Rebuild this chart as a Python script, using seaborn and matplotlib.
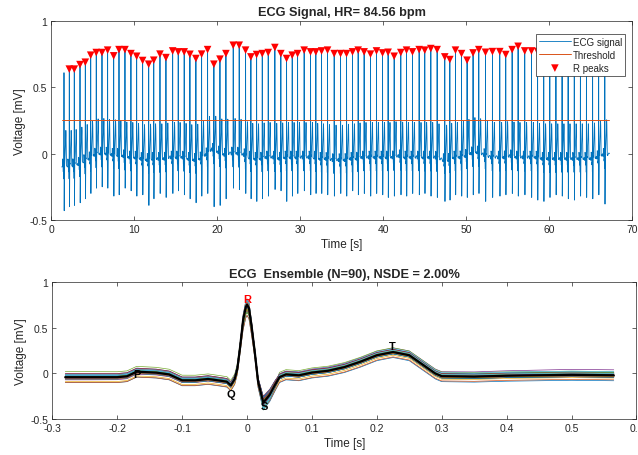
import numpy as np
import pandas as pd
import matplotlib
matplotlib.use("Agg")
import matplotlib.pyplot as plt
from matplotlib.ticker import FormatStrFormatter
import seaborn as sns

# mean beat: time from R peak [s] and voltage [mV]
tmpl_t = np.array([-0.28, -0.24, -0.20, -0.185, -0.17, -0.155, -0.14, -0.12, -0.10, -0.08,
                   -0.06, -0.04, -0.031, -0.025, -0.019, -0.015, -0.011, -0.006, -0.002, 0.0,
                   0.003, 0.007, 0.012, 0.017, 0.025, 0.035, 0.043, 0.05, 0.06, 0.08,
                   0.10, 0.125, 0.15, 0.175, 0.20, 0.225, 0.25, 0.27, 0.29, 0.30,
                   0.35, 0.40, 0.45, 0.50, 0.565])
tmpl_v = np.array([-0.04, -0.04, -0.04, -0.03, 0.02, 0.015, 0.01, -0.01, -0.075, -0.075,
                   -0.06, -0.08, -0.09, -0.13, -0.06, 0.05, 0.27, 0.60, 0.74, 0.77,
                   0.73, 0.53, 0.23, -0.09, -0.33, -0.24, -0.13, -0.04, -0.01, -0.02,
                   0.01, 0.03, 0.07, 0.13, 0.20, 0.235, 0.20, 0.10, 0.0, -0.03,
                   -0.035, -0.025, -0.02, -0.015, -0.02])

# R peak times [s] (first spike was not detected)
beat_times = np.array([
    1.53, 2.17, 2.77, 3.46, 4.10, 4.75, 5.42, 6.11, 6.79, 7.52, 8.16, 8.88, 9.60, 10.29,
    11.01, 11.74, 12.35, 13.10, 13.82, 14.63, 15.30, 16.02, 16.71, 17.43, 18.12, 18.84,
    19.60, 20.33, 21.05, 21.93, 22.65, 23.42, 24.06, 24.75, 25.43, 26.15, 26.95, 27.67,
    28.36, 29.04, 29.69, 30.48, 31.25, 31.89, 32.58, 33.30, 34.10, 34.87, 35.59, 36.31,
    36.99, 37.71, 38.48, 39.20, 39.93, 40.60, 41.33, 42.13, 42.82, 43.54, 44.34, 45.02,
    45.75, 46.51, 47.43, 48.04, 48.72, 49.45, 50.12, 50.84, 51.53, 52.34, 53.18, 54.06,
    54.78, 55.55, 56.27, 57.07, 57.88, 58.62, 59.36, 60.09, 60.83, 61.57, 62.30, 63.04,
    63.78, 64.51, 65.25, 65.98, 66.72])
# R peak voltage [mV]
beat_amps = np.array([
    0.61, 0.637, 0.637, 0.671, 0.689, 0.742, 0.762, 0.762, 0.78, 0.737, 0.784, 0.784, 0.754,
    0.734, 0.702, 0.674, 0.704, 0.75, 0.724, 0.774, 0.767, 0.767, 0.749, 0.717, 0.75, 0.784,
    0.674, 0.712, 0.754, 0.817, 0.817, 0.78, 0.729, 0.747, 0.754, 0.762, 0.80, 0.754, 0.717,
    0.742, 0.754, 0.78, 0.767, 0.767, 0.774, 0.78, 0.754, 0.754, 0.754, 0.767, 0.78, 0.767,
    0.75, 0.774, 0.759, 0.764, 0.734, 0.762, 0.78, 0.767, 0.784, 0.78, 0.792, 0.784, 0.729,
    0.709, 0.78, 0.754, 0.704, 0.759, 0.784, 0.764, 0.769, 0.769, 0.747, 0.784, 0.809, 0.774,
    0.774, 0.77, 0.78, 0.76, 0.77, 0.78, 0.77, 0.76, 0.78, 0.77, 0.77, 0.76, 0.75])
# S trough voltage [mV]
beat_s = np.array([
    -0.43, -0.40, -0.39, -0.37, -0.34, -0.30, -0.26, -0.25, -0.26, -0.32,
    -0.31, -0.26, -0.28, -0.32, -0.31, -0.39, -0.34, -0.30, -0.33, -0.30,
    -0.28, -0.31, -0.34, -0.37, -0.32, -0.30, -0.40, -0.39, -0.34, -0.26,
    -0.27, -0.30, -0.34, -0.36, -0.34, -0.32, -0.27, -0.28, -0.36, -0.32,
    -0.30, -0.28, -0.31, -0.30, -0.30, -0.31, -0.32, -0.30, -0.32, -0.28,
    -0.31, -0.30, -0.32, -0.30, -0.31, -0.33, -0.32, -0.31, -0.32, -0.30,
    -0.31, -0.30, -0.32, -0.33, -0.36, -0.35, -0.31, -0.32, -0.33, -0.31,
    -0.30, -0.36, -0.33, -0.32, -0.31, -0.30, -0.32, -0.31, -0.33, -0.35,
    -0.36, -0.33, -0.31, -0.32, -0.34, -0.35, -0.32, -0.33, -0.34, -0.31,
    -0.38])
# isoelectric level of each beat [mV]
beat_base = np.array([
    -0.10, -0.10, -0.10, -0.09, -0.07, -0.05, -0.02, -0.01, -0.01, -0.02, -0.02, -0.03, -0.04,
    -0.04, -0.05, -0.06, -0.05, -0.05, -0.05, -0.04, -0.04, -0.04, -0.05, -0.06, -0.05, -0.02,
    0.02, 0.0, -0.02, -0.01, -0.01, -0.02, -0.04, -0.05, -0.05, -0.04, -0.04, -0.05, -0.04,
    -0.04, -0.04, -0.04, -0.04, -0.04, -0.05, -0.05, -0.06, -0.06, -0.06, -0.05, -0.05, -0.04,
    -0.04, -0.04, -0.04, -0.04, -0.04, -0.03, -0.04, -0.04, -0.04, -0.04, -0.04, -0.04, -0.06,
    -0.06, -0.04, -0.04, -0.03, -0.01, 0.0, -0.02, -0.04, -0.04, -0.04, -0.03, -0.04, -0.04,
    -0.04, -0.04, -0.05, -0.05, -0.05, -0.05, -0.05, -0.05, -0.05, -0.05, -0.05, -0.04, -0.02])

threshold = 0.25
hr = 84.56
nsde = 2.00
wave_labels = ['P', 'Q', 'R', 'S', 'T']
wave_times = [-0.17, -0.025, 0.0, 0.027, 0.224]
wave_shift = [-0.02, -0.09, 0.06, -0.06, 0.07]

matlab_colors = ['#0072BD', '#D95319', '#EDB120', '#7E2F8E', '#77AC30', '#4DBEEE', '#A2142F']
axis_col = '#262626'

sns.set_theme(style="white")
plt.rcParams['font.family'] = ['Liberation Sans', 'DejaVu Sans']
plt.rcParams['axes.unicode_minus'] = False

iso = tmpl_v[0]
r_lobe = np.where(np.abs(tmpl_t) <= 0.008, tmpl_v / tmpl_v.max(), 0.0)
s_lobe = np.where((tmpl_t > 0.012) & (tmpl_t < 0.045) & (tmpl_v < 0), tmpl_v / tmpl_v.min(), 0.0)
n = len(beat_times)
rr = np.append(np.diff(beat_times), 0.72)


def beat_shape(i):
    # baseline drifts from this beat's level towards the next one
    nxt = beat_base[min(i + 1, n - 1)]
    frac = np.clip((tmpl_t + 0.25) / rr[i], 0, 1)
    off = beat_base[i] + (nxt - beat_base[i]) * frac - iso
    v = tmpl_v + off
    v = v + (beat_amps[i] - v) * r_lobe * (np.abs(tmpl_t) < 1e-9) \
        + (beat_amps[i] - tmpl_v.max() - off) * r_lobe * (np.abs(tmpl_t) >= 1e-9)
    v = v + (beat_s[i] - tmpl_v.min() - off) * s_lobe
    return v


# stitch beats into one continuous trace
sig_t, sig_v = [], []
for i in range(n):
    lo = -np.inf if i == 0 else -0.25
    hi = np.inf if i == n - 1 else rr[i] - 0.25
    keep = (tmpl_t >= lo) & (tmpl_t < hi)
    sig_t.append(beat_times[i] + tmpl_t[keep])
    sig_v.append(beat_shape(i)[keep])
sig_t = np.concatenate(sig_t)
sig_v = np.concatenate(sig_v)

# ensemble of detected beats
idx = range(1, n)
ens = pd.DataFrame({
    't': np.tile(tmpl_t, len(idx)),
    'v': np.concatenate([beat_shape(i) for i in idx]),
    'beat': np.repeat(np.arange(len(idx)), len(tmpl_t)),
})
mean_beat = ens.groupby('t')['v'].mean()

fig = plt.figure(figsize=(6.38, 4.56), dpi=100)
ax1 = fig.add_axes([0.0804, 0.5154, 0.9102, 0.4364])
ax2 = fig.add_axes([0.082, 0.0789, 0.9156, 0.2998])

# top panel
sns.lineplot(x=sig_t, y=sig_v, ax=ax1, color=matlab_colors[0], lw=0.6,
             estimator=None, sort=False, label='ECG signal')
sns.lineplot(x=[sig_t[0], sig_t[-1]], y=[threshold, threshold], ax=ax1,
             color=matlab_colors[1], lw=0.7, label='Threshold')
sns.scatterplot(x=beat_times[1:], y=beat_amps[1:], ax=ax1, marker='v', color='red',
                s=30, edgecolor='none', label='R peaks', zorder=3)
ax1.set_xlim(0, 70)
ax1.set_ylim(-0.5, 1)
ax1.set_xticks(np.arange(0, 71, 10))
ax1.set_yticks([-0.5, 0, 0.5, 1])
ax1.yaxis.set_major_formatter(FormatStrFormatter('%g'))
ax1.set_title(f'ECG Signal, HR= {hr:.2f} bpm', fontsize=9.2, fontweight='bold', pad=4)
ax1.set_xlabel('Time [s]', fontsize=8.5, color=axis_col, labelpad=3)
ax1.set_ylabel('Voltage [mV]', fontsize=8.5, color=axis_col, labelpad=2)
leg = ax1.legend(loc='upper right', bbox_to_anchor=(0.988, 0.935), borderaxespad=0,
                 fontsize=7, frameon=True, fancybox=False, handlelength=3.3,
                 handletextpad=0.2, borderpad=0.3, labelspacing=0.3)
leg.get_frame().set_edgecolor(axis_col)
leg.get_frame().set_linewidth(0.5)
leg.get_frame().set_alpha(1)

# bottom panel
sns.lineplot(data=ens, x='t', y='v', hue='beat', units='beat', estimator=None, ax=ax2,
             palette=[matlab_colors[k % 7] for k in range(len(idx))], lw=0.5, legend=False)
sns.lineplot(x=mean_beat.index, y=mean_beat.values, ax=ax2, color='black', lw=1.6)
for lab, wt, dv in zip(wave_labels, wave_times, wave_shift):
    yv = np.interp(wt, mean_beat.index, mean_beat.values) + dv
    ax2.text(wt, yv, lab, ha='center', va='center', fontsize=8, fontweight='bold',
             color='red' if lab == 'R' else 'black', zorder=5)
ax2.set_xlim(-0.3, 0.6)
ax2.set_ylim(-0.5, 1)
ax2.set_xticks(np.round(np.arange(-0.3, 0.61, 0.1), 1))
ax2.set_yticks([-0.5, 0, 0.5, 1])
ax2.xaxis.set_major_formatter(FormatStrFormatter('%g'))
ax2.yaxis.set_major_formatter(FormatStrFormatter('%g'))
ax2.set_title(f'ECG  Ensemble (N={len(idx)}), NSDE = {nsde:.2f}%', fontsize=9.2,
              fontweight='bold', pad=4)
ax2.set_xlabel('Time [s]', fontsize=8.5, color=axis_col, labelpad=3)
ax2.set_ylabel('Voltage [mV]', fontsize=8.5, color=axis_col, labelpad=2)

for ax in (ax1, ax2):
    ax.tick_params(direction='in', top=True, right=True, bottom=True, left=True,
                   length=3, width=0.5, colors=axis_col, labelsize=7.5, pad=3)
    for sp in ax.spines.values():
        sp.set_color(axis_col)
        sp.set_linewidth(0.5)

fig.savefig('out.png', dpi=100)
